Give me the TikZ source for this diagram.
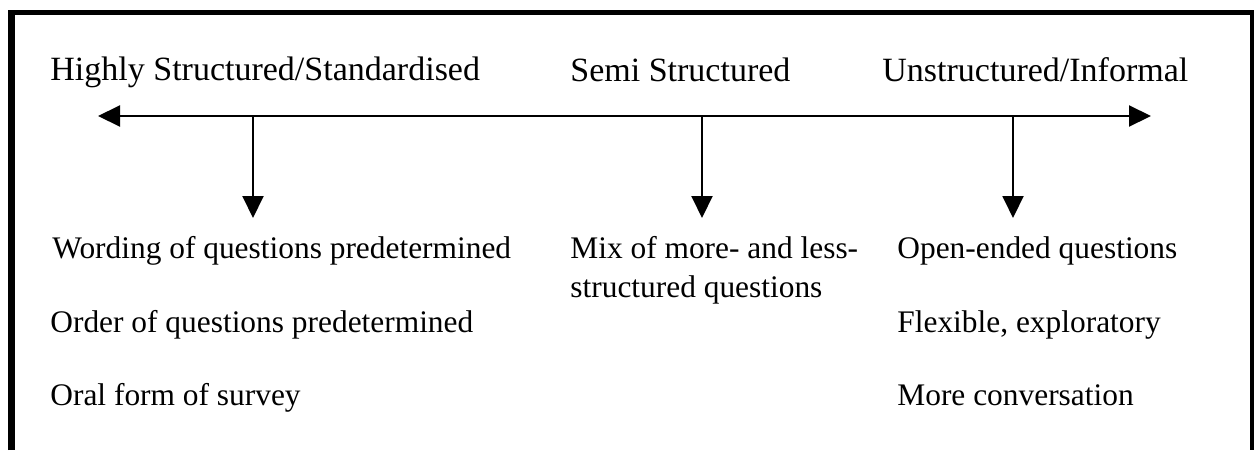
\documentclass[tikz,border=0pt]{standalone}
\usepackage{fontspec}
\setmainfont{Liberation Serif}
\usetikzlibrary{arrows.meta,positioning}

\tikzset{
  heading text/.style={anchor=base west, inner sep=0pt,
    font=\fontsize{17}{20}\selectfont},
  item text/.style={anchor=base west, inner sep=0pt, align=left,
    font=\fontsize{15.7}{19.5}\selectfont},
  scale line/.style={line width=1pt, {Triangle[length=11pt,width=10.5pt]}-{Triangle[length=11pt,width=10.5pt]}},
  drop line/.style={line width=1pt, -{Triangle[length=11pt,width=10.5pt]}}
}

\begin{document}
\begin{tikzpicture}[x=0.5pt, y=-0.5pt]

 \useasboundingbox (0,0) rectangle (1256,450);

 % frame, open at the bottom
 \draw[line width=3.3pt] (11.5,450) -- (11.5,10);
 \draw[line width=2.5pt] (8,12.5) -- (1254,12.5);
 \draw[line width=2pt] (1252,10) -- (1252,450);

 % headings
 \node[heading text] (highly) at (50,80) {Highly Structured/Standardised};
 \node[heading text] (semi) at (570,81) {Semi Structured};
 \node[heading text] (unstruct) at (882,81) {Unstructured/Informal};

 % the scale
 \coordinate (scale west) at (98,116);
 \coordinate (scale east) at (1151,116);
 \draw[scale line] (scale west) -- (scale east);

 \coordinate (highly top) at (253,116);
 \coordinate (highly tip) at (253,218);
 \coordinate (semi top) at (702,116);
 \coordinate (semi tip) at (702,218);
 \coordinate (unstruct top) at (1013,116);
 \coordinate (unstruct tip) at (1013,218);
 \draw[drop line] (highly top) -- (highly tip);
 \draw[drop line] (semi top) -- (semi tip);
 \draw[drop line] (unstruct top) -- (unstruct tip);

 % features of each kind
 \node[item text] (wording) at (52,258) {Wording of questions predetermined};
 \node[item text] (order) at (50,332) {Order of questions predetermined};
 \node[item text] (oral) at (50,405) {Oral form of survey};

 % base of a two-line node is its last line
 \node[item text] (mix) at (570,297) {Mix of more- and less-\\structured questions};

 \node[item text] (open) at (897,258) {Open-ended questions};
 \node[item text] (flexible) at (897,332) {Flexible, exploratory};
 \node[item text] (conversation) at (897,405) {More conversation};

\end{tikzpicture}
\end{document}
